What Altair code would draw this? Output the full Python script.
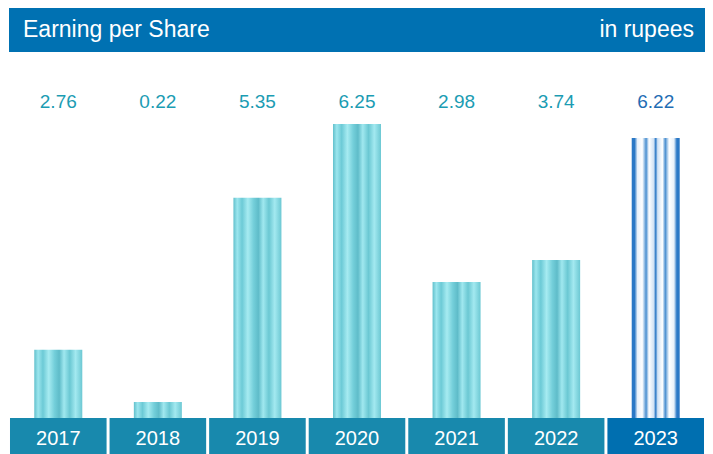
import altair as alt
import pandas as pd

# ---- data ----
years = ["2017", "2018", "2019", "2020", "2021", "2022", "2023"]
eps = [2.76, 0.22, 5.35, 6.25, 2.98, 3.74, 6.22]          # printed labels (rupees)
bar_heights = [1.45, 0.34, 4.68, 6.25, 2.89, 3.36, 5.95]  # drawn bar heights
highlight = ["no", "no", "no", "no", "no", "no", "yes"]

title_left = "Earning per Share"
title_right = "in rupees"

df = pd.DataFrame({"year": years, "eps": eps, "h": bar_heights, "hl": highlight})
df["label"] = [f"{v:.2f}" for v in eps]

FONT = "Liberation Sans"
TITLE_BLUE = "#0071b2"
BOX_TEAL = "#1889ad"
BOX_BLUE = "#006fb0"

x = alt.X("year:N", axis=None,
          scale=alt.Scale(paddingInner=0.03, paddingOuter=0.01))
y_scale = alt.Scale(domain=[0, 8.716], nice=False, zero=True)

base = alt.Chart(df)

# title banner
banner = base.mark_rect(color=TITLE_BLUE).encode(
    x=alt.value(0), x2=alt.value(696), y=alt.value(0), y2=alt.value(44)
).transform_filter(alt.datum.year == "2017")

t_left = base.mark_text(align="left", baseline="alphabetic", font=FONT,
                        fontSize=23, color="white").encode(
    x=alt.value(14), y=alt.value(29), text=alt.value(title_left)
).transform_filter(alt.datum.year == "2017")

t_right = base.mark_text(align="right", baseline="alphabetic", font=FONT,
                         fontSize=23, color="white").encode(
    x=alt.value(685), y=alt.value(29), text=alt.value(title_right)
).transform_filter(alt.datum.year == "2017")

cyan_grad = alt.LinearGradient(
    gradient="linear", x1=0, x2=1, y1=0, y2=0,
    stops=[
        alt.GradientStop(offset=0.0, color="#62c0cc"),
        alt.GradientStop(offset=0.08, color="#9ce6ee"),
        alt.GradientStop(offset=0.18, color="#6ccad6"),
        alt.GradientStop(offset=0.3, color="#a6ebf1"),
        alt.GradientStop(offset=0.42, color="#74cfda"),
        alt.GradientStop(offset=0.52, color="#5fbcc9"),
        alt.GradientStop(offset=0.62, color="#a0e8ef"),
        alt.GradientStop(offset=0.74, color="#6bc8d3"),
        alt.GradientStop(offset=0.86, color="#a3e9f0"),
        alt.GradientStop(offset=1.0, color="#6cc8d3"),
    ],
)

blue_grad = alt.LinearGradient(
    gradient="linear", x1=0, x2=1, y1=0, y2=0,
    stops=[
        alt.GradientStop(offset=0.0, color="#2a78c6"),
        alt.GradientStop(offset=0.06, color="#2a78c6"),
        alt.GradientStop(offset=0.12, color="#e8f1fa"),
        alt.GradientStop(offset=0.22, color="#ffffff"),
        alt.GradientStop(offset=0.3, color="#4a8fd0"),
        alt.GradientStop(offset=0.36, color="#ffffff"),
        alt.GradientStop(offset=0.46, color="#cfe1f4"),
        alt.GradientStop(offset=0.5, color="#2a78c6"),
        alt.GradientStop(offset=0.54, color="#cfe1f4"),
        alt.GradientStop(offset=0.64, color="#ffffff"),
        alt.GradientStop(offset=0.7, color="#4a8fd0"),
        alt.GradientStop(offset=0.78, color="#ffffff"),
        alt.GradientStop(offset=0.88, color="#e8f1fa"),
        alt.GradientStop(offset=0.94, color="#2a78c6"),
        alt.GradientStop(offset=1.0, color="#2a78c6"),
    ],
)

bars = base.mark_bar(size=48, color=cyan_grad).encode(
    x=x, y=alt.Y("h:Q", scale=y_scale, axis=None)
).transform_filter(alt.datum.hl == "no")

bar_hl = base.mark_bar(size=48, color=blue_grad).encode(
    x=x, y=alt.Y("h:Q", scale=y_scale, axis=None)
).transform_filter(alt.datum.hl == "yes")

values = base.mark_text(baseline="alphabetic", font=FONT, fontSize=19).encode(
    x=x, y=alt.value(100), text="label:N",
    color=alt.Color("hl:N", scale=alt.Scale(domain=["no", "yes"],
                                            range=["#1b9cb3", "#1f6db4"]),
                    legend=None),
)

boxes = base.mark_rect().encode(
    x=x, y=alt.value(410), y2=alt.value(450),
    color=alt.Color("hl:N", scale=alt.Scale(domain=["no", "yes"],
                                            range=[BOX_TEAL, BOX_BLUE]),
                    legend=None),
)

year_text = base.mark_text(baseline="alphabetic", font=FONT, fontSize=20,
                           color="white").encode(
    x=x, y=alt.value(437), text="year:N"
)

chart = alt.layer(banner, t_left, t_right, bars, bar_hl, boxes, year_text, values).resolve_scale(
    color="independent"
).properties(
    width=696, height=410,
    autosize=alt.AutoSizeParams(type="none"),
    padding={"left": 1, "top": 0, "right": 0, "bottom": 36},
).configure_view(stroke=None)

chart.save("out.html", embed_options={"renderer": "svg", "actions": False})
